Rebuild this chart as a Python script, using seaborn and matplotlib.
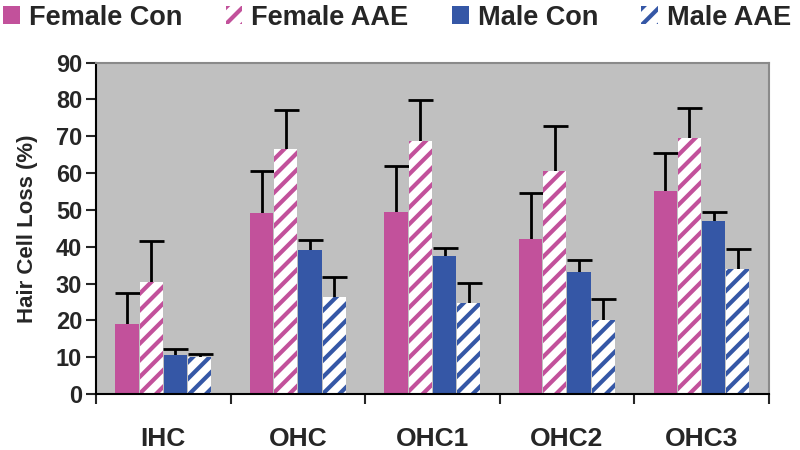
import numpy as np
import pandas as pd
import matplotlib
matplotlib.use('Agg')
import matplotlib.pyplot as plt
from matplotlib.patches import Patch
import seaborn as sns

# values (mean, upper error)
regions = ['IHC', 'OHC', 'OHC1', 'OHC2', 'OHC3']
groups = ['Female Con', 'Female AAE', 'Male Con', 'Male AAE']
female_con = [19.0, 49.2, 49.5, 42.2, 55.1]
female_aae = [30.4, 66.5, 68.8, 60.5, 69.6]
male_con = [10.5, 39.0, 37.5, 33.0, 47.0]
male_aae = [10.1, 26.4, 24.7, 20.1, 34.0]
female_con_sd = [8.4, 11.3, 12.3, 12.3, 10.3]
female_aae_sd = [11.1, 10.5, 11.0, 12.3, 8.1]
male_con_sd = [1.6, 2.7, 2.2, 3.5, 2.4]
male_aae_sd = [0.8, 5.3, 5.5, 5.7, 5.4]

pink = '#C2519B'
blue = '#3557A6'
colors = [pink, pink, blue, blue]
hatched = [False, True, False, True]

means = [female_con, female_aae, male_con, male_aae]
sds = [female_con_sd, female_aae_sd, male_con_sd, male_aae_sd]
df = pd.DataFrame({
    'region': regions * 4,
    'group': np.repeat(groups, len(regions)),
    'loss': np.concatenate(means),
})

sns.set_theme(style='white')
plt.rcParams['font.family'] = ['Liberation Sans', 'DejaVu Sans']
plt.rcParams['font.weight'] = 'bold'
plt.rcParams['hatch.linewidth'] = 3.0

fig = plt.figure(figsize=(8, 4.5), dpi=100)
ax = fig.add_axes([0.12, 0.1244, 0.841, 0.7366])

sns.barplot(data=df, x='region', y='loss', hue='group', hue_order=groups,
            palette=colors, saturation=1, errorbar=None, width=0.72, gap=0.04,
            linewidth=0, legend=False, ax=ax)

# style bars and add upper error bars
n = len(regions)
for i, g in enumerate(groups):
    bars = ax.patches[i * n:(i + 1) * n]
    xs = []
    for b in bars:
        if hatched[i]:
            b.set_facecolor('white')
            b.set_edgecolor(colors[i])
            b.set_hatch('//')
            b.set_linewidth(0)
        xs.append(b.get_x() + b.get_width() / 2)
    eb = ax.errorbar(xs, means[i], yerr=[np.zeros(n), sds[i]], fmt='none',
                     ecolor='black', elinewidth=2, capsize=9, capthick=2,
                     zorder=0.5)
    eb[1][0].set_visible(False)  # no cap at the bar top

ax.set_facecolor('#C0C0C0')
ax.set_xlim(-0.5, n - 0.5)
ax.set_ylim(0, 90)
ax.set_yticks(range(0, 91, 10))
ax.tick_params(axis='y', labelsize=17, length=7, width=1.5, pad=3, left=True)
ax.set_xticks(np.arange(-0.5, n, 1.0))
ax.set_xticklabels([])
ax.set_xticks(range(n), regions, minor=True)
ax.tick_params(axis='x', which='major', length=7, width=1.5, bottom=True)
ax.tick_params(axis='x', which='minor', length=0, labelsize=19, pad=24)
ax.set_xlabel('')
ax.set_ylabel('Hair Cell Loss (%)', fontsize=16, fontweight='bold', labelpad=13)

for s in ['left', 'bottom']:
    ax.spines[s].set_color('black')
    ax.spines[s].set_linewidth(1.5)
for s in ['top', 'right']:
    ax.spines[s].set_color('#8A8A8A')
    ax.spines[s].set_linewidth(1.5)

handles = []
for i, g in enumerate(groups):
    if hatched[i]:
        handles.append(Patch(facecolor='white', edgecolor=colors[i], hatch='//',
                             linewidth=0, label=g))
    else:
        handles.append(Patch(facecolor=colors[i], linewidth=0, label=g))
fig.legend(handles=handles, loc='center left', bbox_to_anchor=(0.004, 0.961),
           ncol=4, frameon=False, fontsize=19.5, handlelength=0.62,
           handleheight=0.62, handletextpad=0.33, columnspacing=1.6,
           borderaxespad=0, borderpad=0)

fig.savefig('out.png', dpi=100)
